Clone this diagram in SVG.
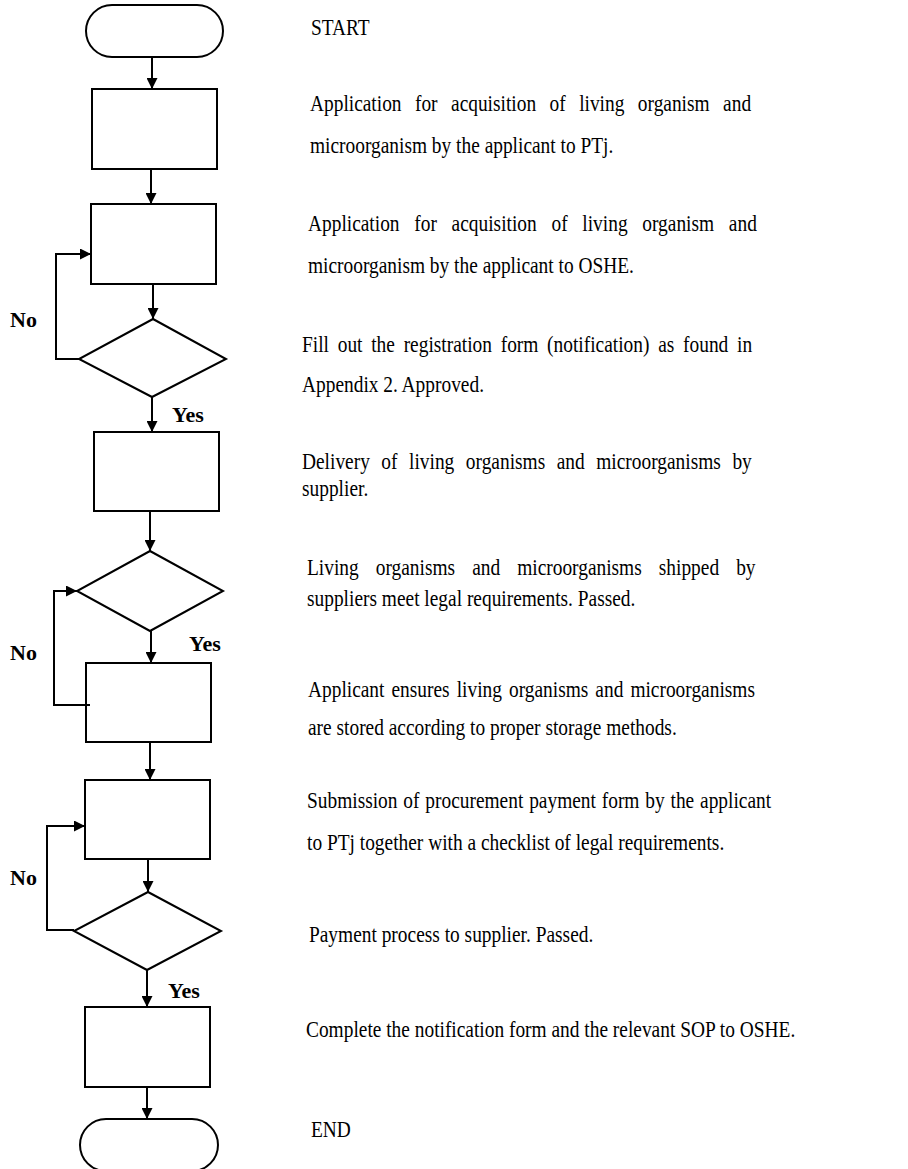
<svg xmlns="http://www.w3.org/2000/svg" width="908" height="1169" viewBox="0 0 908 1169">
<style>
.node{fill:#fff;stroke:#000;stroke-width:2}
.conn{fill:none;stroke:#000;stroke-width:2}
.t{font-family:"Liberation Serif","Times New Roman",serif;font-size:19.4px;fill:#000}
.lbl{font-family:"Liberation Serif","Times New Roman",serif;font-size:22px;font-weight:bold;fill:#000}
</style>
<defs>
<marker id="ah" viewBox="0 0 10 10" refX="10" refY="5" markerWidth="11" markerHeight="11" markerUnits="userSpaceOnUse" orient="auto">
<path d="M0,0 L10,5 L0,10 Z" fill="#000"/>
</marker>
</defs>
<rect width="908" height="1169" fill="#fff"/>
<g id="start"><rect class="node" x="86" y="5" width="137" height="52" rx="26" ry="26"/></g>
<g id="box1"><rect class="node" x="92" y="89" width="125" height="80"/></g>
<g id="box2"><rect class="node" x="91" y="204" width="125" height="80"/></g>
<g id="dec1"><polygon class="node" points="153,319 226,359 152,397 79,359"/></g>
<g id="box3"><rect class="node" x="94" y="432" width="125" height="79"/></g>
<g id="dec2"><polygon class="node" points="150,551 223,591 150,631 77,591"/></g>
<g id="box4"><rect class="node" x="86" y="663" width="125" height="79"/></g>
<g id="box5"><rect class="node" x="85" y="780" width="125" height="79"/></g>
<g id="dec3"><polygon class="node" points="148,892 221,931 147,970 74,931"/></g>
<g id="box6"><rect class="node" x="85" y="1007" width="125" height="80"/></g>
<g id="end"><rect class="node" x="80" y="1119" width="138" height="52" rx="26" ry="26"/></g>
<g id="connectors">
<path class="conn" d="M152,57 V89" marker-end="url(#ah)"/>
<path class="conn" d="M151,169 V204" marker-end="url(#ah)"/>
<path class="conn" d="M153,284 V319" marker-end="url(#ah)"/>
<path class="conn" d="M79,359 H56 V254 H91" marker-end="url(#ah)"/>
<path class="conn" d="M152,397 V432" marker-end="url(#ah)"/>
<path class="conn" d="M150,511 V551" marker-end="url(#ah)"/>
<path class="conn" d="M151,631 V663" marker-end="url(#ah)"/>
<path class="conn" d="M90,705 H54 V591 H77" marker-end="url(#ah)"/>
<path class="conn" d="M150,742 V780" marker-end="url(#ah)"/>
<path class="conn" d="M148,859 V892" marker-end="url(#ah)"/>
<path class="conn" d="M74,930 H47 V826 H85" marker-end="url(#ah)"/>
<path class="conn" d="M147,970 V1007" marker-end="url(#ah)"/>
<path class="conn" d="M147,1087 V1119" marker-end="url(#ah)"/>
</g>
<g id="labels">
<text class="lbl" x="10" y="327">No</text>
<text class="lbl" x="172" y="422">Yes</text>
<text class="lbl" x="10" y="660">No</text>
<text class="lbl" x="189" y="651">Yes</text>
<text class="lbl" x="10" y="885">No</text>
<text class="lbl" x="168" y="998">Yes</text>
</g>
<g id="descriptions">
<text class="t" x="311" y="0" transform="translate(0,35) scale(1,1.22)">START</text>
<text class="t" x="310" y="0" transform="translate(0,110.5) scale(1,1.22)" word-spacing="8.6">Application for acquisition of living organism and</text>
<text class="t" x="310" y="0" transform="translate(0,153) scale(1,1.22)">microorganism by the applicant to PTj.</text>
<text class="t" x="308" y="0" transform="translate(0,231) scale(1,1.22)" word-spacing="9.9">Application for acquisition of living organism and</text>
<text class="t" x="308" y="0" transform="translate(0,273) scale(1,1.22)">microorganism by the applicant to OSHE.</text>
<text class="t" x="302" y="0" transform="translate(0,352) scale(1,1.22)" word-spacing="3.9">Fill out the registration form (notification) as found in</text>
<text class="t" x="302" y="0" transform="translate(0,392) scale(1,1.22)">Appendix 2. Approved.</text>
<text class="t" x="302" y="0" transform="translate(0,469) scale(1,1.22)" word-spacing="6.7">Delivery of living organisms and microorganisms by</text>
<text class="t" x="302" y="0" transform="translate(0,496) scale(1,1.22)">supplier.</text>
<text class="t" x="307" y="0" transform="translate(0,575) scale(1,1.22)" word-spacing="12.2">Living organisms and microorganisms shipped by</text>
<text class="t" x="307" y="0" transform="translate(0,606) scale(1,1.22)">suppliers meet legal requirements. Passed.</text>
<text class="t" x="308" y="0" transform="translate(0,697) scale(1,1.22)" word-spacing="2.2">Applicant ensures living organisms and microorganisms</text>
<text class="t" x="308" y="0" transform="translate(0,735) scale(1,1.22)">are stored according to proper storage methods.</text>
<text class="t" x="307" y="0" transform="translate(0,808) scale(1,1.22)" word-spacing="1">Submission of procurement payment form by the applicant</text>
<text class="t" x="307" y="0" transform="translate(0,850) scale(1,1.22)">to PTj together with a checklist of legal requirements.</text>
<text class="t" x="309" y="0" transform="translate(0,942) scale(1,1.22)">Payment process to supplier. Passed.</text>
<text class="t" x="306" y="0" transform="translate(0,1037) scale(1,1.22)">Complete the notification form and the relevant SOP to OSHE.</text>
<text class="t" x="311" y="0" transform="translate(0,1137) scale(1,1.22)">END</text>
</g>
</svg>
